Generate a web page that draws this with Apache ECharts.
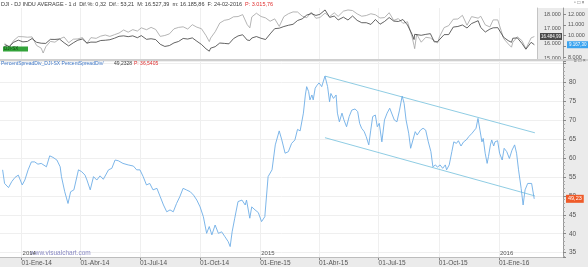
<!DOCTYPE html>
<html><head><meta charset="utf-8">
<script src="https://cdn.jsdelivr.net/npm/echarts@6/dist/echarts.min.js"></script>
<style>html,body{margin:0;padding:0;background:#fff}#c{width:588px;height:267px}</style>
</head><body><div id="c"></div>
<script>
// ---------- tick labels ----------
const quarterDates = ['2014-01-01','2014-04-01','2014-07-01','2014-10-01','2015-01-01','2015-04-01','2015-07-01','2015-10-01','2016-01-01'];
const quarterLabels = ['01-Ene-14','01-Abr-14','01-Jul-14','01-Oct-14','01-Ene-15','01-Abr-15','01-Jul-15','01-Oct-15','01-Ene-16'];
const yearDates = ['2014-01-01','2015-01-01','2016-01-01'];
const yearLabels = ['2014','2015','2016'];

// ---------- lower panel: PercentSpreadDiv ----------
const spreadDates = ['2013-12-03','2013-12-06','2013-12-12','2013-12-17','2013-12-22','2013-12-27','2014-01-02','2014-01-06','2014-01-11','2014-01-16','2014-01-21','2014-01-26','2014-01-31','2014-02-08','2014-02-13','2014-02-18','2014-02-24','2014-03-01','2014-03-03','2014-03-08','2014-03-13','2014-03-17','2014-03-22','2014-03-29','2014-04-03','2014-04-08','2014-04-11','2014-04-16','2014-04-21','2014-04-26','2014-05-01','2014-05-06','2014-05-14','2014-05-19','2014-05-24','2014-05-29','2014-06-05','2014-06-13','2014-06-21','2014-06-26','2014-07-01','2014-07-06','2014-07-11','2014-07-16','2014-07-21','2014-07-27','2014-08-01','2014-08-06','2014-08-11','2014-08-16','2014-08-21','2014-08-26','2014-08-31','2014-09-05','2014-09-10','2014-09-16','2014-09-21','2014-09-26','2014-10-01','2014-10-06','2014-10-11','2014-10-15','2014-10-19','2014-10-24','2014-10-29','2014-11-03','2014-11-08','2014-11-13','2014-11-16','2014-11-19','2014-11-23','2014-11-28','2014-12-04','2014-12-09','2014-12-11','2014-12-16','2014-12-19','2014-12-24','2014-12-29','2015-01-03','2015-01-08','2015-01-13','2015-01-19','2015-01-24','2015-01-30','2015-02-03','2015-02-08','2015-02-13','2015-02-18','2015-02-23','2015-02-27','2015-03-03','2015-03-08','2015-03-11','2015-03-13','2015-03-16','2015-03-18','2015-03-21','2015-03-23','2015-03-26','2015-03-29','2015-04-01','2015-04-05','2015-04-10','2015-04-14','2015-04-17','2015-04-19','2015-04-23','2015-04-27','2015-04-29','2015-05-02','2015-05-06','2015-05-09','2015-05-13','2015-05-17','2015-05-21','2015-05-26','2015-05-30','2015-06-02','2015-06-05','2015-06-09','2015-06-12','2015-06-16','2015-06-19','2015-06-22','2015-06-26','2015-06-29','2015-07-02','2015-07-06','2015-07-10','2015-07-14','2015-07-18','2015-07-21','2015-07-25','2015-07-29','2015-08-02','2015-08-06','2015-08-09','2015-08-12','2015-08-16','2015-08-19','2015-08-22','2015-08-26','2015-08-29','2015-09-03','2015-09-07','2015-09-11','2015-09-15','2015-09-19','2015-09-22','2015-09-26','2015-09-29','2015-10-03','2015-10-07','2015-10-11','2015-10-13','2015-10-17','2015-10-21','2015-10-24','2015-10-28','2015-10-31','2015-11-04','2015-11-08','2015-11-12','2015-11-16','2015-11-21','2015-11-24','2015-11-27','2015-11-30','2015-12-03','2015-12-06','2015-12-08','2015-12-11','2015-12-14','2015-12-16','2015-12-19','2015-12-21','2015-12-24','2015-12-26','2015-12-30','2016-01-02','2016-01-06','2016-01-09','2016-01-13','2016-01-17','2016-01-21','2016-01-25','2016-01-28','2016-01-31','2016-02-04','2016-02-07','2016-02-10','2016-02-14','2016-02-17','2016-02-20','2016-02-24'];
const spreadValues = [56.9,53.3,52.2,53.8,54.9,55.5,52.9,54.2,56.9,59.0,59.0,58.4,58.6,57.7,60.6,60.2,59.5,57.7,55.1,51.1,48.0,51.1,51.6,56.9,56.4,55.5,54.2,51.6,55.1,54.2,55.3,54.4,56.9,57.3,59.5,59.3,58.6,58.2,57.9,56.9,56.9,55.1,52.9,53.3,51.6,52.0,49.8,47.6,45.8,46.3,45.8,48.0,49.8,52.0,51.6,51.1,50.2,48.9,47.1,44.5,40.1,41.9,39.7,42.3,40.1,40.5,39.2,37.9,36.6,40.5,44.1,48.5,48.9,47.6,48.9,44.1,47.1,46.3,45.6,43.2,44.5,55.1,56.9,63.5,67.2,64.8,61.3,61.7,63.9,64.8,67.6,67.2,71.9,76.7,78.9,77.6,75.4,76.7,75.4,78.5,79.3,79.9,78.9,81.7,78.9,74.9,77.1,75.8,76.7,71.9,69.6,71.9,70.1,68.3,71.0,72.7,73.0,72.3,69.2,67.9,67.0,65.7,63.5,67.4,71.0,71.4,68.3,69.2,64.3,70.1,71.9,73.2,72.9,70.1,69.6,72.7,76.4,74.5,70.1,66.6,62.6,63.0,67.0,66.1,67.4,67.9,67.4,64.3,61.7,57.7,58.2,57.6,58.2,57.3,58.2,56.9,58.2,61.7,64.3,63.9,64.6,63.2,64.3,64.8,65.7,66.6,67.0,67.9,70.5,67.4,64.3,65.2,61.3,58.6,60.4,63.5,64.8,63.2,64.3,64.6,61.3,59.5,62.6,61.7,59.9,62.1,63.5,61.3,56.9,52.0,47.6,51.6,53.3,52.9,53.3,49.23];

// channel (trend lines drawn on the indicator)
const channelDates = ['2015-04-10','2016-02-25'];
const channelUpper = [81.7, 66.7];
const channelLower = [65.4, 50.0];

// ---------- upper panel: DJI (grey) and second index (dark) ----------
const topDates = ['2013-12-06','2013-12-13','2013-12-20','2013-12-27','2014-01-03','2014-01-10','2014-01-17','2014-01-24','2014-01-31','2014-02-03','2014-02-07','2014-02-14','2014-02-21','2014-02-28','2014-03-07','2014-03-14','2014-03-21','2014-03-28','2014-04-04','2014-04-11','2014-04-17','2014-04-25','2014-05-02','2014-05-09','2014-05-16','2014-05-23','2014-05-30','2014-06-06','2014-06-13','2014-06-20','2014-06-27','2014-07-03','2014-07-11','2014-07-18','2014-07-25','2014-08-01','2014-08-08','2014-08-15','2014-08-22','2014-08-29','2014-09-05','2014-09-12','2014-09-19','2014-09-26','2014-10-03','2014-10-10','2014-10-15','2014-10-17','2014-10-24','2014-10-31','2014-11-07','2014-11-14','2014-11-21','2014-11-28','2014-12-05','2014-12-12','2014-12-16','2014-12-19','2014-12-26','2015-01-02','2015-01-09','2015-01-16','2015-01-23','2015-01-30','2015-02-06','2015-02-13','2015-02-20','2015-02-27','2015-03-06','2015-03-13','2015-03-20','2015-03-27','2015-04-02','2015-04-10','2015-04-17','2015-04-24','2015-04-30','2015-05-08','2015-05-15','2015-05-22','2015-05-29','2015-06-05','2015-06-12','2015-06-19','2015-06-26','2015-07-03','2015-07-10','2015-07-17','2015-07-24','2015-07-31','2015-08-07','2015-08-14','2015-08-21','2015-08-24','2015-08-25','2015-08-28','2015-09-04','2015-09-11','2015-09-18','2015-09-24','2015-09-29','2015-10-02','2015-10-09','2015-10-16','2015-10-23','2015-10-30','2015-11-06','2015-11-13','2015-11-20','2015-11-30','2015-12-04','2015-12-11','2015-12-18','2015-12-23','2015-12-30','2016-01-08','2016-01-15','2016-01-20','2016-01-22','2016-01-29','2016-02-05','2016-02-11','2016-02-19','2016-02-24'];
const djiValues = [16020,15755,16221,16479,16470,16437,16458,15879,15699,15372,15794,16154,16103,16321,16452,16065,16302,16323,16412,16026,16408,16361,16512,16583,16491,16606,16717,16924,16776,16947,16851,17068,16943,17100,16961,16493,16553,16662,17001,17098,17137,16988,17280,17113,17009,16544,16142,16380,16805,17391,17573,17634,17810,17828,17958,17280,17068,17805,18053,17833,17737,17512,17673,17165,17825,18019,18140,18133,17857,17749,18128,17713,17763,18058,17827,18080,17841,18191,18272,18232,18011,17849,17899,18016,17947,17730,17760,18086,17568,17690,17373,17477,16460,15871,15666,16643,16102,16433,16385,16201,16049,16472,17084,17216,17647,17664,17910,17245,17824,17720,17848,17265,17128,17603,17604,16346,15988,15766,16094,16466,16205,15660,16392,16485];
const secondValues = [9173,9006,9400,9589,9435,9473,9742,9392,9306,9186,9290,9663,9656,9692,9350,9056,9343,9588,9695,9315,9409,9401,9556,9581,9630,9768,9943,9987,9912,9987,9815,10009,9666,9720,9644,9210,9010,9092,9339,9470,9747,9691,9799,9490,9195,8788,8572,8850,8988,9326,9291,9252,9732,9980,10087,9594,9564,9787,9922,9765,9648,10167,10649,10694,10846,10963,11050,11402,11551,11901,12040,11868,11968,12375,11689,11811,11454,11709,11447,11815,11413,11197,11197,11040,11492,11058,11316,11674,11347,11309,11490,10985,10124,9648,10128,10298,10038,10123,10188,9428,9450,9553,10096,10104,10795,10850,10988,10708,11119,11382,10752,10340,10608,10727,10743,9849,9545,9392,9764,9798,9286,8752,9388,9167];

// ---------- helpers ----------
const ts = s => { const p = s.split('-').map(Number); return new Date(p[0], p[1]-1, p[2]).getTime(); };
const quarterTs = quarterDates.map(ts);
const thousands = v => { const s = String(Math.round(v)); return s.length > 3 ? s.slice(0, -3) + '.' + s.slice(-3) : s; };
const FONT = 'Liberation Sans';
const GRID_C = '#efefef';

const chart = echarts.init(document.getElementById('c'), null, {renderer: 'canvas', width: 588, height: 267});

const option = {
  animation: false,
  backgroundColor: '#ebebeb',
  textStyle: {fontFamily: FONT},
  grid: [
    {left: 0, right: 51, top: 8, bottom: 208, show: true, backgroundColor: '#ffffff', borderWidth: 0},
    {left: 0, right: 25, top: 61, bottom: 10, show: true, backgroundColor: '#ffffff', borderWidth: 0}
  ],
  xAxis: [
    {type: 'value', gridIndex: 0, min: ts('2013-11-29'), max: ts('2016-02-28'), scale: true,
     axisLine: {show: false}, axisTick: {show: false, customValues: quarterTs},
     axisLabel: {show: false, customValues: quarterTs},
     splitLine: {show: true, lineStyle: {color: GRID_C, width: 1}}},
    {type: 'value', gridIndex: 1, min: ts('2013-11-29'), max: ts('2016-04-08'), scale: true,
     axisLine: {show: true, lineStyle: {color: '#b0b0b0', width: 1}},
     axisTick: {show: true, length: 3, customValues: quarterTs, lineStyle: {color: '#888'}},
     axisLabel: {customValues: quarterTs, align: 'left', margin: 3, fontSize: 6.5, color: '#555', fontFamily: FONT,
       showMinLabel: true, showMaxLabel: true,
       formatter: v => { const i = quarterTs.indexOf(v); return i >= 0 ? quarterLabels[i] : ''; }},
     splitLine: {show: true, lineStyle: {color: GRID_C, width: 1}}}
  ],
  yAxis: [
    {type: 'value', gridIndex: 0, position: 'right', min: 14970, max: 18404, minInterval: 1000, maxInterval: 1000,
     axisLine: {show: true, lineStyle: {color: '#c4c4c4'}}, axisTick: {show: false},
     axisLabel: {align: 'left', margin: 7, fontSize: 5.5, color: '#555', fontFamily: FONT, formatter: thousands, showMinLabel: false, showMaxLabel: false},
     splitLine: {show: false}},
    {type: 'value', gridIndex: 0, position: 'right', offset: 26, min: 7853, max: 12553, minInterval: 1000, maxInterval: 1000,
     axisLine: {show: true, lineStyle: {color: '#999'}}, axisTick: {show: true, length: 3, lineStyle: {color: '#888'}},
     axisLabel: {align: 'left', margin: 5, fontSize: 5.5, color: '#555', fontFamily: FONT, formatter: thousands, showMinLabel: false, showMaxLabel: false},
     splitLine: {show: false}},
    {type: 'value', gridIndex: 1, position: 'right', min: 33.84, max: 85.69, minInterval: 5, maxInterval: 5,
     axisLine: {show: true, lineStyle: {color: '#999'}},
     axisTick: {show: true, length: 3, lineStyle: {color: '#888'}},
     minorTick: {show: true, splitNumber: 5, length: 2, lineStyle: {color: '#aaa'}},
     axisLabel: {align: 'left', margin: 6, fontSize: 6.5, color: '#555', fontFamily: FONT, showMinLabel: false, showMaxLabel: false,
       formatter: v => (v > 82 ? '' : String(v))},
     splitLine: {show: true, lineStyle: {color: GRID_C, width: 1}}}
  ],
  series: [
    {type: 'line', name: 'DJI', xAxisIndex: 0, yAxisIndex: 0, showSymbol: false, silent: true,
     data: topDates.map((d, i) => [ts(d), djiValues[i]]), lineStyle: {color: '#a2a2a2', width: 0.8}, z: 2},
    {type: 'line', name: 'SX', xAxisIndex: 0, yAxisIndex: 1, showSymbol: false, silent: true,
     data: topDates.map((d, i) => [ts(d), secondValues[i]]), lineStyle: {color: '#3c3c3c', width: 0.8}, z: 3},
    {type: 'line', name: 'PercentSpreadDiv', xAxisIndex: 1, yAxisIndex: 2, showSymbol: false, silent: true,
     data: spreadDates.map((d, i) => [ts(d), spreadValues[i]]), lineStyle: {color: '#6eaee6', width: 0.9}, z: 3},
    {type: 'line', name: 'upper', xAxisIndex: 1, yAxisIndex: 2, showSymbol: false, silent: true,
     data: channelDates.map((d, i) => [ts(d), channelUpper[i]]), lineStyle: {color: '#82c6e0', width: 0.9}, z: 2},
    {type: 'line', name: 'lower', xAxisIndex: 1, yAxisIndex: 2, showSymbol: false, silent: true,
     data: channelDates.map((d, i) => [ts(d), channelLower[i]]), lineStyle: {color: '#82c6e0', width: 0.9}, z: 2}
  ]
};
chart.setOption(option);

// ---------- overlays positioned through the chart's own scales ----------
const g = [];
g.push({type: 'rect', shape: {x: 0, y: 0, width: 588, height: 8}, style: {fill: '#ffffff'}, z: -5, silent: true});
g.push({type: 'rect', shape: {x: 0, y: 59, width: 588, height: 2}, style: {fill: '#cfcfcf'}, z: 1, silent: true});
g.push({type: 'rect', shape: {x: 0, y: 257, width: 563, height: 1}, style: {fill: '#bdbdbd'}, z: 1, silent: true});
const txt = (x, y, text, fill, size, extra) => Object.assign({type: 'text', x: x, y: y, z: 20, silent: true,
  style: Object.assign({text: text, fill: fill, fontSize: size, fontFamily: FONT, verticalAlign: 'middle', align: 'left'}, extra || {})});
// headers
g.push(txt(1, 4, 'DJI - DJ INDU AVERAGE - 1 d  Dif.%: 0,32  Dif.: 53,21  M: 16.527,39  m: 16.185,86  F: 24-02-2016', '#3a3a3a', 5.5));
g.push(txt(245, 4, 'P: 3.015,76', '#e03030', 5.5));
g.push(txt(1, 63.5, 'PercentSpreadDiv_DJI-SX PercentSpreadDiv/', '#3f78c8', 5));
g.push(txt(114, 63.5, '49,2328', '#3a3a3a', 5));
g.push(txt(134, 63.5, 'P: 36,5405', '#e03030', 5));
g.push(txt(574, 3, '▫ □ ×', '#666', 5));
g.push(txt(574, 60.5, '≡ □ ×', '#666', 5));
// green marker at top left
g.push({type: 'rect', shape: {x: 3, y: 46.5, width: 25, height: 5}, style: {fill: '#33a33a'}, z: 20, silent: true});
g.push(txt(4, 49, 'DJI-SX', '#104a10', 4.5));
// watermark
g.push(txt(30, 253.5, 'www.visualchart.com', '#8a8ac4', 6.5));
// year labels at January ticks
yearDates.forEach((d, i) => {
  const x = chart.convertToPixel({xAxisIndex: 1}, ts(d));
  g.push(txt(x + 1, 253.5, yearLabels[i], '#555', 6));
});
// last-value boxes
const yDji = chart.convertToPixel({yAxisIndex: 0}, djiValues[djiValues.length - 1]);
const ySec = chart.convertToPixel({yAxisIndex: 1}, secondValues[secondValues.length - 1]);
const ySpr = chart.convertToPixel({yAxisIndex: 2}, spreadValues[spreadValues.length - 1]);
g.push(txt(540, yDji, '16.484,99', '#ffffff', 4.5, {backgroundColor: '#4a4a4a', padding: [1, 1]}));
g.push(txt(567, ySec, '9.167,30', '#ffffff', 4.5, {backgroundColor: '#3aa3ef', padding: [1, 2]}));
g.push(txt(566, ySpr, '49,23', '#ffffff', 5.5, {backgroundColor: '#ef5b2a', padding: [1, 2]}));
chart.setOption({graphic: g});
</script>
</body></html>
